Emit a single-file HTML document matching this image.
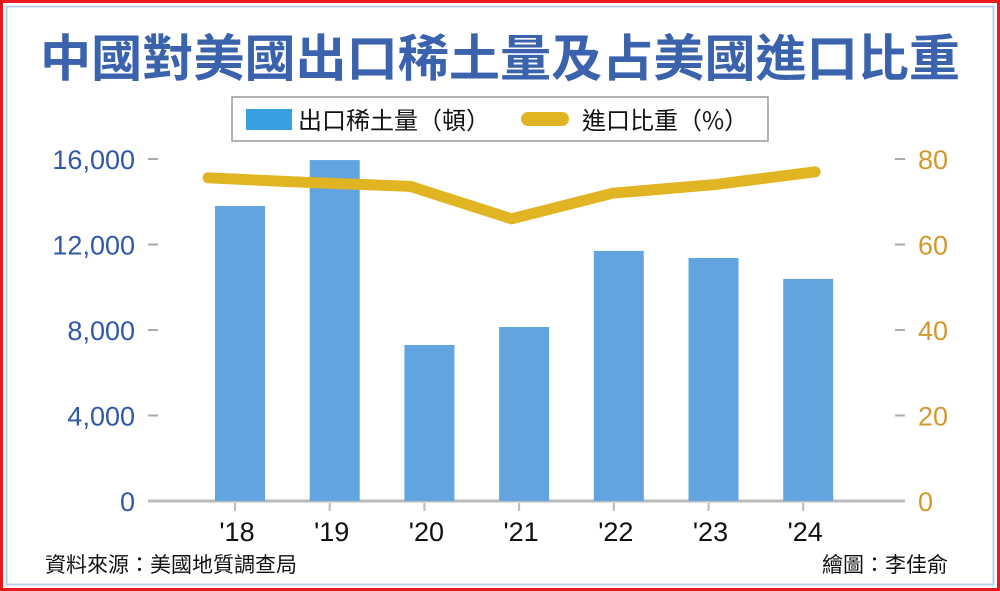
<!DOCTYPE html>
<html><head><meta charset="utf-8"><style>
body{margin:0;background:#fff}
#wrap{position:relative;width:1000px;height:591px;overflow:hidden;font-family:"Liberation Sans","Noto Sans CJK TC",sans-serif}
</style></head><body>
<div id="wrap">
<svg id="svg" width="1000" height="591">
<rect x="1.5" y="1.5" width="997" height="588" fill="#fff" stroke="#e8191e" stroke-width="3"/>
<rect x="6.5" y="6.5" width="987" height="578" fill="none" stroke="#b9cfe6" stroke-width="2"/>
<text x="40" y="76" textLength="920" lengthAdjust="spacingAndGlyphs" font-size="50" font-weight="bold" fill="#3a62ad" font-family="'Noto Sans CJK TC',sans-serif">中國對美國出口稀土量及占美國進口比重</text>
<g>
<rect x="232" y="97" width="536" height="44" fill="#fff" stroke="#999" stroke-width="1.5"/>
<rect x="246" y="109" width="46" height="21" fill="#36a0e0"/>
<text x="298" y="129" font-size="24" fill="#111" font-family="'Noto Sans CJK TC',sans-serif">出口稀土量（頓）</text>
<line x1="528" y1="119" x2="562" y2="119" stroke="#e0b422" stroke-width="14" stroke-linecap="round"/>
<text x="582" y="129" font-size="24" fill="#111" font-family="'Noto Sans CJK TC',sans-serif">進口比重（%）</text>
</g>
<g id="axes"></g><g id="bars"></g><g id="line"></g>
<text x="45" y="572" font-size="21" fill="#111" font-family="'Noto Sans CJK TC',sans-serif">資料來源：美國地質調查局</text>
<text x="948" y="572" text-anchor="end" font-size="21" fill="#111" font-family="'Noto Sans CJK TC',sans-serif">繪圖：李佳俞</text>
</svg></div>
<script>
const categories=["'18","'19","'20","'21","'22","'23","'24"];
const exportTons=[13800,15950,7300,8140,11700,11370,10390];
const importShare=[75.6,74.5,73.6,66,72,74,77];
const leftTicks=[0,4000,8000,12000,16000];
const leftTickLabels=["0","4,000","8,000","12,000","16,000"];
const rightTicks=[0,20,40,60,80];
const NS="http://www.w3.org/2000/svg";
const y0=501,yTop=159;
const yL=v=>y0-(v/16000)*(y0-yTop);
const yR=v=>y0-(v/80)*(y0-yTop);
const xC=i=>240+i*94.7;
const xLine=i=>208+i*101.2;
function mk(tag,attrs,parent,txt){const e=document.createElementNS(NS,tag);for(const k in attrs)e.setAttribute(k,attrs[k]);if(txt!==undefined)e.textContent=txt;document.getElementById(parent).appendChild(e);return e;}
leftTicks.forEach((t,i)=>{
 const e=mk('text',{x:135,y:yL(t)+10,'text-anchor':'end','font-size':27,fill:'#2f58a8'},'axes',leftTickLabels[i]);
 
 
 if(t>0){const l=mk('line',{x1:148,x2:158,y1:yL(t),y2:yL(t),stroke:'#aaa','stroke-width':2},'axes');
 
 
 const r=mk('line',{x1:895,x2:905,y1:yL(t),y2:yL(t),stroke:'#aaa','stroke-width':2},'axes');
 
 }
});
rightTicks.forEach(t=>{
 const e=mk('text',{x:918,y:yR(t)+10,'font-size':27,fill:'#d4972a'},'axes',String(t));
 
 
});
const ax=mk('line',{x1:148,x2:905,y1:y0,y2:y0,stroke:'#bbb','stroke-width':3},'axes');


categories.forEach((c,i)=>{
 const tk=mk('line',{x1:xC(i)-5,x2:xC(i)-5,y1:503,y2:511,stroke:'#bbb','stroke-width':2},'axes');
 
 
 const e=mk('text',{x:xC(i)-3,y:541,'text-anchor':'middle','font-size':27,fill:'#111'},'axes',c);
 
 
 const b=mk('rect',{x:xC(i)-25,y:yL(exportTons[i]),width:50,height:y0-yL(exportTons[i]),fill:'#62a4e0'},'bars');
 
 
});
const pts=importShare.map((v,i)=>xLine(i)+','+yR(v)).join(' ');
const pl=mk('polyline',{points:pts,fill:'none',stroke:'#e0b422','stroke-width':11,'stroke-linecap':'round','stroke-linejoin':'round'},'line');


</script>
</body></html>
